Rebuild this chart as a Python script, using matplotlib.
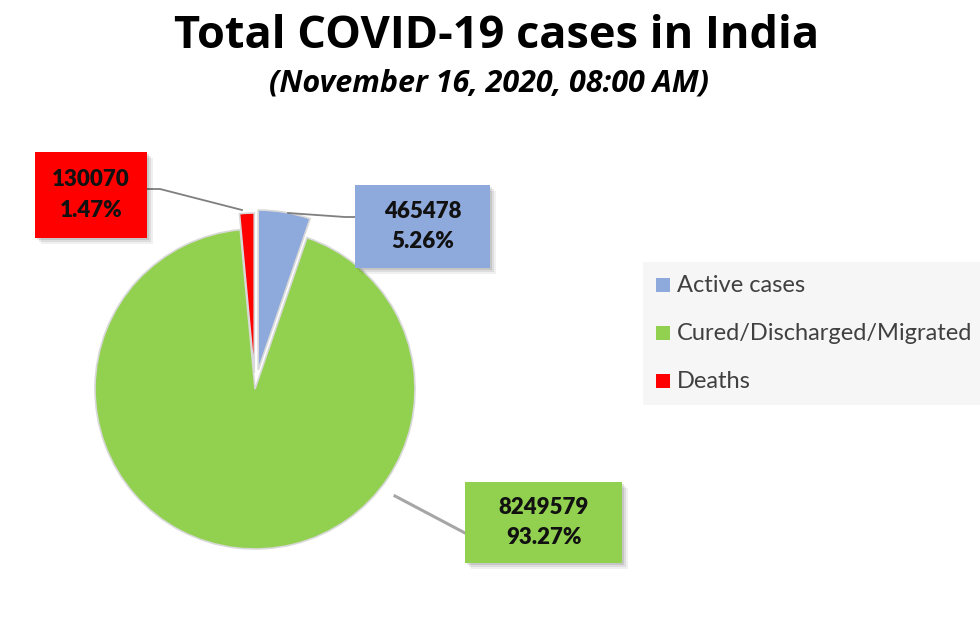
import matplotlib
matplotlib.use("Agg")
import matplotlib.pyplot as plt
from matplotlib.patches import Rectangle

categories = ["Active cases", "Cured/Discharged/Migrated", "Deaths"]
values = [465478, 8249579, 130070]
percents = ["5.26%", "93.27%", "1.47%"]
colors = ["#8EA9DB", "#92D050", "#FF0000"]
explode = [0.12, 0.0, 0.1]

W, H = 980, 627
fig = plt.figure(figsize=(W / 100, H / 100), dpi=100)
fig.patch.set_facecolor("white")

def fx(px):
    return px / W

def fy(py):
    return 1 - py / H

# Title
fig.text(fx(497), fy(37), "Total COVID-19 cases in India", ha="center", va="center",
         fontsize=32.5, fontweight="bold", family="Open Sans", color="black")
fig.text(fx(489), fy(84), "(November 16, 2020, 08:00 AM)", ha="center", va="center",
         fontsize=22, fontweight="bold", style="italic", family="Open Sans", color="black")

# Pie axes: centre at (255, 389) px, radius 160 px
cx, cy, R = 255, 389, 160
L = 1.3
side = 2 * L * R
ax = fig.add_axes([fx(cx - side / 2), fy(cy + side / 2), side / W, side / H])
wedges, _ = ax.pie(values, colors=colors, startangle=90, counterclock=False,
                   explode=explode, radius=1.0,
                   wedgeprops=dict(edgecolor="#d9d9d9", linewidth=1.2))
ax.set_xlim(-L, L)
ax.set_ylim(-L, L)
ax.set_aspect("equal")
ax.axis("off")

def d(px, py):
    return ((px - cx) / R, (cy - py) / R)

# label boxes (pixel extents) and leader lines
boxes = [
    (355, 185, 490, 268, [(288, 213), (345, 217), (355, 217)]),
    (465, 482, 622, 563, [(395, 496), (465, 533)]),
    (35, 152, 147, 238, [(242, 210), (160, 189), (147, 189)]),
]
for i, (x0, y0, x1, y1, pts) in enumerate(boxes):
    xs = [d(*p)[0] for p in pts]
    ys = [d(*p)[1] for p in pts]
    ax.plot(xs, ys, color="#a6a6a6" if i == 1 else "#7f7f7f",
            lw=2.2 if i == 1 else 1.3, clip_on=False, zorder=1)
    # shadow
    for k, a in enumerate([0.10, 0.08, 0.06]):
        off = 2 + k * 2
        fig.patches.append(Rectangle((fx(x0 + off), fy(y1 + off)), (x1 - x0) / W, (y1 - y0) / H,
                                     transform=fig.transFigure, facecolor="black",
                                     alpha=a, edgecolor="none", zorder=5))
    fig.patches.append(Rectangle((fx(x0), fy(y1)), (x1 - x0) / W, (y1 - y0) / H,
                                 transform=fig.transFigure, facecolor=colors[i],
                                 edgecolor="none", zorder=6))
    fig.text(fx((x0 + x1) / 2), fy((y0 + y1) / 2),
             f"{values[i]}\n{percents[i]}", ha="center", va="center",
             fontsize=16, fontweight="heavy", family="Lato", linespacing=1.55,
             color="#111111", zorder=7)

# legend
fig.patches.append(Rectangle((fx(643), fy(405)), (980 - 643) / W, (405 - 262) / H,
                             transform=fig.transFigure, facecolor="#f6f6f6",
                             edgecolor="none", zorder=2))
leg_y = [285, 333, 381]
for i in range(3):
    s = 14
    fig.patches.append(Rectangle((fx(656), fy(leg_y[i] + s / 2)), s / W, s / H,
                                 transform=fig.transFigure, facecolor=colors[i],
                                 edgecolor="none", zorder=3))
    fig.text(fx(677), fy(leg_y[i]), categories[i], ha="left", va="center",
             fontsize=17, family="Lato", color="#404040", zorder=4)

fig.savefig("out.png", dpi=100, facecolor="white")
